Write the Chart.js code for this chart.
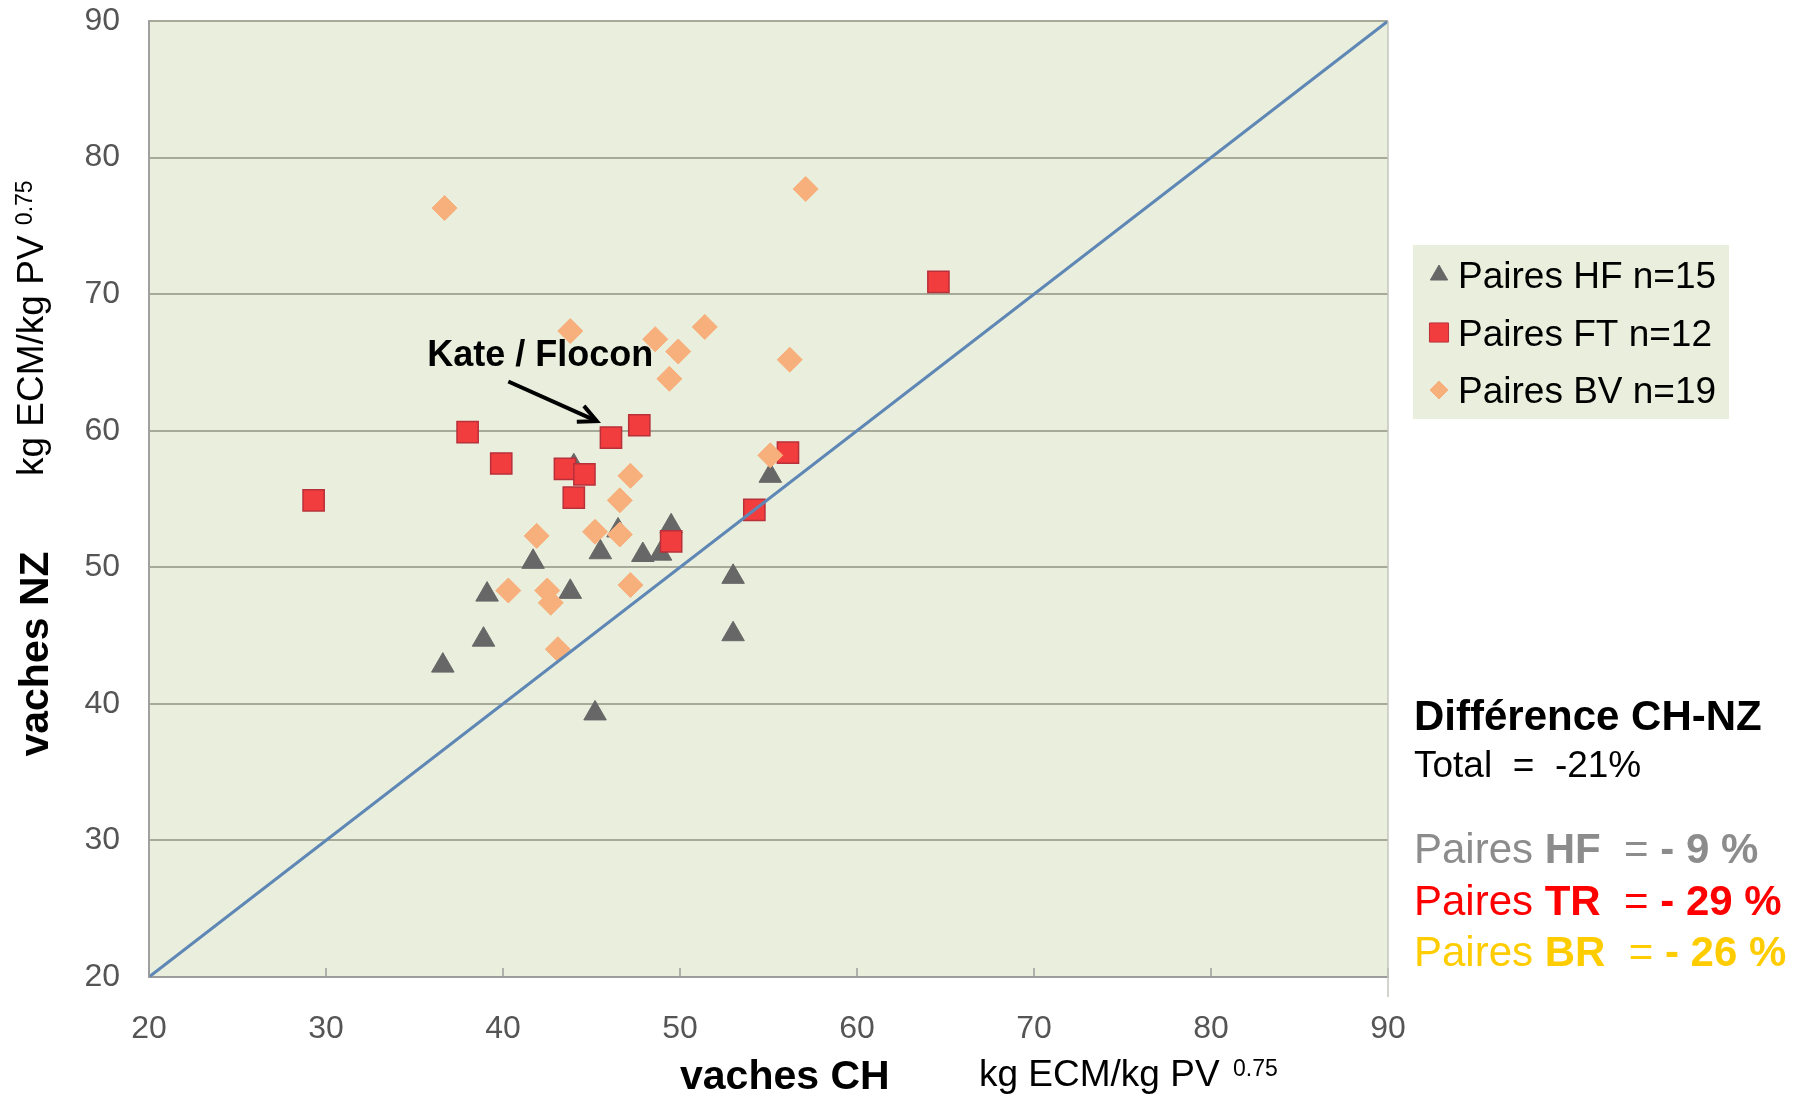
<!DOCTYPE html>
<html>
<head>
<meta charset="utf-8">
<script src="https://cdn.jsdelivr.net/npm/chart.js@4.4.0/dist/chart.umd.min.js"></script>
<style>
  body { margin: 0; background: #fff; }
  #wrap { width: 1799px; height: 1097px; }
</style>
</head>
<body>
<div id="wrap"><canvas id="scatter" width="1799" height="1097"></canvas></div>
<script>
// vaches CH (x) / vaches NZ (y), kg ECM / kg PV^0.75
const hfX = [36.6, 38.9, 39.1, 41.7, 43.8, 44.0, 45.5, 45.2, 46.5, 47.9, 48.9, 49.5, 53.0, 53.0, 55.1];
const hfY = [42.8, 44.7, 48.0, 50.4, 48.2, 57.4, 51.1, 39.3, 52.7, 50.9, 51.0, 53.0, 49.3, 45.1, 56.7];

const ftX = [29.3, 38.0, 39.9, 43.5, 44.6, 44.0, 46.1, 47.7, 49.5, 54.2, 56.1, 64.6];
const ftY = [54.9, 59.9, 57.6, 57.2, 56.8, 55.1, 59.5, 60.4, 51.9, 54.2, 58.4, 70.9];

const bvX = [36.7, 57.1, 43.8, 48.6, 49.9, 51.4, 49.4, 56.2, 55.1, 47.2, 46.6, 41.9, 45.2, 46.6, 40.3, 42.5, 42.7, 47.2, 43.1];
const bvY = [76.3, 77.7, 67.3, 66.7, 65.8, 67.6, 63.8, 65.2, 58.2, 56.7, 54.9, 52.3, 52.6, 52.4, 48.3, 48.3, 47.4, 48.7, 44.0];

// 1:1 line
const diagX = [20, 90];
const diagY = [20, 90];

const xTicks = [20, 30, 40, 50, 60, 70, 80, 90];
const yTicks = [20, 30, 40, 50, 60, 70, 80, 90];

const seriesLabels = ['Paires HF n=15', 'Paires FT n=12', 'Paires BV n=19'];

const plotBg = '#eaefdd';
const FONT = '"Liberation Sans", Arial, sans-serif';

const toPoints = (xs, ys) => xs.map((x, i) => ({ x: x, y: ys[i] }));

// text helpers
function drawRuns(c, runs, x, y, size, color) {
  c.fillStyle = color;
  runs.forEach(r => {
    c.font = (r.b ? 'bold ' : '') + size + 'px ' + FONT;
    c.fillText(r.t, x, y);
    x += c.measureText(r.t).width;
  });
}

const bgPlugin = {
  id: 'plotBg',
  beforeDraw(chart) {
    const { ctx, chartArea: a } = chart;
    ctx.save();
    ctx.fillStyle = plotBg;
    ctx.fillRect(a.left, a.top, a.right - a.left, a.bottom - a.top);
    ctx.restore();
  }
};

const extrasPlugin = {
  id: 'extras',
  afterDraw(chart) {
    const c = chart.ctx;
    const xs = chart.scales.x, ys = chart.scales.y;
    const a = chart.chartArea;
    c.save();

    // small ticks inside the plot on the x axis
    c.strokeStyle = '#9c9c9c';
    c.lineWidth = 1.5;
    xTicks.forEach(v => {
      const px = xs.getPixelForValue(v);
      c.beginPath();
      c.moveTo(px, a.bottom);
      c.lineTo(px, a.bottom - 9);
      c.stroke();
    });
    // right border
    c.strokeStyle = '#c4c6bc';
    c.beginPath();
    c.moveTo(a.right, a.top);
    c.lineTo(a.right, a.bottom + 20);
    c.stroke();

    // annotation Kate / Flocon
    c.fillStyle = '#000';
    c.font = 'bold 36px ' + FONT;
    c.textAlign = 'center';
    c.textBaseline = 'middle';
    c.fillText('Kate / Flocon', xs.getPixelForValue(42.1), ys.getPixelForValue(65.5));
    const x0 = xs.getPixelForValue(40.3), y0 = ys.getPixelForValue(63.6);
    const x1 = xs.getPixelForValue(45.3), y1 = ys.getPixelForValue(60.7);
    c.strokeStyle = '#000';
    c.lineWidth = 4;
    c.beginPath();
    c.moveTo(x0, y0);
    c.lineTo(x1, y1);
    c.stroke();
    const ang = Math.atan2(y1 - y0, x1 - x0);
    c.beginPath();
    c.moveTo(x1 - 20 * Math.cos(ang - 0.45), y1 - 20 * Math.sin(ang - 0.45));
    c.lineTo(x1, y1);
    c.lineTo(x1 - 20 * Math.cos(ang + 0.45), y1 - 20 * Math.sin(ang + 0.45));
    c.stroke();

    // axis titles
    c.textAlign = 'left';
    c.textBaseline = 'alphabetic';
    c.fillStyle = '#000';
    c.font = 'bold 41px ' + FONT;
    c.fillText('vaches CH', 680, 1089);
    c.font = '37px ' + FONT;
    c.fillText('kg ECM/kg PV', 979, 1086);
    c.font = '23px ' + FONT;
    c.fillText('0.75', 1233, 1076);

    c.save();
    c.translate(48, 654);
    c.rotate(-Math.PI / 2);
    c.textAlign = 'center';
    c.font = 'bold 41px ' + FONT;
    c.fillText('vaches NZ', 0, 0);
    c.restore();

    c.save();
    c.translate(43, 476);
    c.rotate(-Math.PI / 2);
    c.font = '37px ' + FONT;
    c.fillText('kg ECM/kg PV', 0, 0);
    const w = c.measureText('kg ECM/kg PV ').width;
    c.font = '23px ' + FONT;
    c.fillText('0.75', w, -11);
    c.restore();

    // legend
    c.fillStyle = plotBg;
    c.fillRect(1413, 245, 316, 174);
    chart.data.datasets.filter(d => d.type !== 'line').forEach((d, i) => {
      const cy = 275 + i * 57.5;
      c.fillStyle = d.backgroundColor;
      c.strokeStyle = d.borderColor;
      c.lineWidth = 1;
      Chart.helpers.drawPoint(c, { pointStyle: d.pointStyle, radius: d.legendRadius, rotation: 0, borderWidth: 1 }, 1439, cy);
      c.fillStyle = '#000';
      c.font = '37px ' + FONT;
      c.fillText(d.label, 1458, cy + 13);
    });

    // differences
    drawRuns(c, [{ t: 'Différence CH-NZ', b: true }], 1414, 730, 42, '#000');
    drawRuns(c, [{ t: 'Total  =  -21%' }], 1414, 777, 37, '#000');
    drawRuns(c, [{ t: 'Paires ' }, { t: 'HF', b: true }, { t: '  = ' }, { t: '- 9 %', b: true }], 1414, 863, 42, '#8c8c8c');
    drawRuns(c, [{ t: 'Paires ' }, { t: 'TR', b: true }, { t: '  = ' }, { t: '- 29 %', b: true }], 1414, 915, 42, '#ff0000');
    drawRuns(c, [{ t: 'Paires ' }, { t: 'BR', b: true }, { t: '  = ' }, { t: '- 26 %', b: true }], 1414, 966, 42, '#ffcc00');

    c.restore();
  }
};

const ctx = document.getElementById('scatter').getContext('2d');

new Chart(ctx, {
  type: 'scatter',
  data: {
    datasets: [
      {
        label: seriesLabels[0],
        data: toPoints(hfX, hfY),
        pointStyle: 'triangle',
        pointRadius: 13,
        legendRadius: 10,
        backgroundColor: '#676767',
        borderColor: '#676767',
        borderWidth: 1,
        order: 3
      },
      {
        label: seriesLabels[1],
        data: toPoints(ftX, ftY),
        pointStyle: 'rect',
        pointRadius: 15,
        legendRadius: 13.5,
        backgroundColor: '#f23d3f',
        borderColor: '#b8303a',
        borderWidth: 1.5,
        order: 2
      },
      {
        label: seriesLabels[2],
        data: toPoints(bvX, bvY),
        pointStyle: 'rectRot',
        pointRadius: 12.5,
        legendRadius: 9,
        backgroundColor: '#f7af7b',
        borderColor: '#f7af7b',
        borderWidth: 1,
        order: 1
      },
      {
        type: 'line',
        label: 'y = x',
        data: toPoints(diagX, diagY),
        borderColor: '#5f87b5',
        borderWidth: 3,
        pointRadius: 0,
        fill: false,
        order: 0
      }
    ]
  },
  options: {
    responsive: false,
    devicePixelRatio: 1,
    animation: false,
    layout: { padding: { left: 0, top: 21, right: 411, bottom: 0 } },
    plugins: {
      legend: { display: false },
      tooltip: { enabled: false }
    },
    scales: {
      x: {
        type: 'linear',
        min: 20,
        max: 90,
        afterBuildTicks: s => { s.ticks = xTicks.map(v => ({ value: v })); },
        afterFit: s => { s.height = 120; },
        grid: { drawOnChartArea: false, drawTicks: false },
        border: { display: true, color: '#9c9c9c', width: 2 },
        ticks: { padding: 33, color: '#555', font: { family: FONT, size: 32 } }
      },
      y: {
        type: 'linear',
        min: 20,
        max: 90,
        afterBuildTicks: s => { s.ticks = yTicks.map(v => ({ value: v })); },
        afterFit: s => { s.width = 149; },
        // invisible tick marks give the gap between labels and axis
        grid: { color: '#a7a999', lineWidth: 2, drawTicks: true, tickLength: 29, tickColor: 'rgba(0,0,0,0)' },
        border: { display: true, color: '#a0a0a0', width: 2 },
        ticks: { padding: 0, color: '#555', font: { family: FONT, size: 32 } }
      }
    }
  },
  plugins: [bgPlugin, extrasPlugin]
});
</script>
</body>
</html>
